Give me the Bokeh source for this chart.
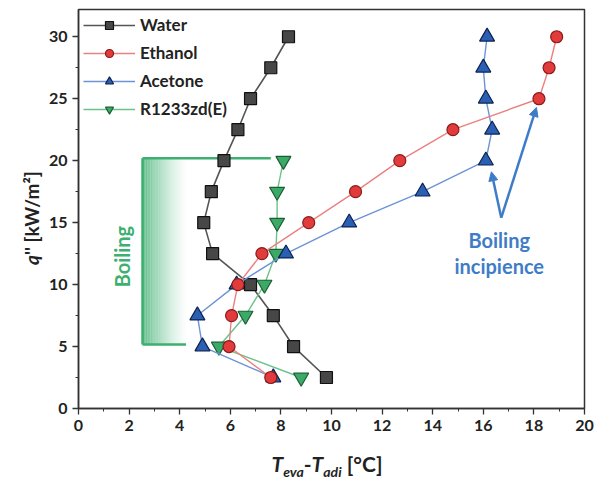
import numpy as np
from bokeh.plotting import figure
from bokeh.models import (Label, Arrow, NormalHead, Legend, LegendItem, FixedTicker,
                          SingleIntervalTicker, Range1d, Div)
from bokeh.layouts import row, column
from bokeh.embed import file_html
from bokeh.resources import INLINE

# ---- data ----
q_flux = [2.5, 5, 7.5, 10, 12.5, 15, 17.5, 20, 22.5, 25, 27.5, 30]
water_dT = [9.8, 8.5, 7.7, 6.8, 5.3, 4.95, 5.25, 5.75, 6.3, 6.8, 7.6, 8.3]
ethanol_dT = [7.6, 5.95, 6.05, 6.3, 7.25, 9.1, 10.95, 12.7, 14.8, 18.2, 18.6, 18.9]
acetone_dT = [7.7, 4.9, 4.7, 6.25, 8.2, 10.7, 13.6, 16.1, 16.35, 16.1, 16.0, 16.15]
r1233_q = [2.5, 5, 7.5, 10, 12.5, 15, 17.5, 20]
r1233_dT = [8.8, 5.55, 6.6, 7.35, 7.8, 7.85, 7.85, 8.1]
y_ticks = [0, 5, 10, 15, 20, 25, 30]
y_minor = [2.5, 7.5, 12.5, 17.5, 22.5, 27.5]

FONT = "Lato"
GREEN = "#3daf70"
BLUE = "#3f7cc8"

p = figure(width=556, height=445, output_backend="svg", toolbar_location=None,
           x_range=Range1d(0, 20), y_range=Range1d(0, 32.2),
           min_border_left=34, min_border_right=16, min_border_top=9, min_border_bottom=37)
p.xgrid.visible = False
p.ygrid.visible = False
p.outline_line_color = "#333333"
p.outline_line_width = 1.5
p.background_fill_color = "white"
p.border_fill_color = "white"

for ax in (p.xaxis[0], p.yaxis[0]):
    ax.axis_line_color = "#333333"
    ax.axis_line_width = 1.5
    ax.major_tick_line_color = "#333333"
    ax.minor_tick_line_color = "#333333"
    ax.major_tick_line_width = 1.3
    ax.minor_tick_line_width = 1.0
    ax.major_tick_out = 6
    ax.major_tick_in = 0
    ax.minor_tick_out = 3
    ax.minor_tick_in = 0
    ax.major_label_text_font = FONT
    ax.major_label_text_font_style = "bold"
    ax.major_label_text_font_size = "16px"
    ax.major_label_text_color = "#222222"
    ax.major_label_standoff = 5
p.xaxis.ticker = SingleIntervalTicker(interval=2, num_minor_ticks=2)
p.yaxis.ticker = FixedTicker(ticks=y_ticks, minor_ticks=y_minor)

# ---- boiling bracket (green) ----
bx0, bx1, by0, by1 = 2.53, 4.3, 5.16, 20.2
n = 28
edges = np.linspace(bx0, bx1, n + 1)
alphas = [0.8 * (1 - i / n) ** 1.4 for i in range(n)]
p.quad(left=edges[:-1], right=edges[1:], bottom=by0, top=by1,
       fill_color=GREEN, fill_alpha=alphas, line_color=None)
p.segment(x0=[bx0, bx0, bx0], y0=[by1, by0, by0], x1=[7.6, 4.25, bx0], y1=[by1, by0, by1],
          line_color=GREEN, line_width=2.5)

# ---- series ----
def series(x, y, line_color, marker, size, fill, edge, lw=1.4):
    l = p.line(x, y, line_color=line_color, line_width=lw)
    s = p.scatter(x, y, marker=marker, size=size, fill_color=fill, line_color=edge, line_width=1.2)
    return [l, s]

r_w = series(water_dT, q_flux, "#555555", "square", 12, "#474747", "#111111", 1.6)
r_r = series(r1233_dT, r1233_q, "#6cc28a", "inverted_triangle", 15, "#3aaa66", "#1b5e35")
r_a = series(acetone_dT, q_flux, "#6b93d6", "triangle", 15, "#2b5fb4", "#0d2350")
r_e = series(ethanol_dT, q_flux, "#ec8080", "circle", 12, "#e23b3b", "#8a1a1a")

legend = Legend(items=[LegendItem(label="Water", renderers=r_w),
                       LegendItem(label="Ethanol", renderers=r_e),
                       LegendItem(label="Acetone", renderers=r_a),
                       LegendItem(label="R1233zd(E)", renderers=r_r)],
                location="top_left", glyph_width=52, glyph_height=20, label_height=20,
                spacing=7, margin=5, padding=2, label_standoff=5,
                label_text_font=FONT, label_text_font_style="bold",
                label_text_font_size="17px", label_text_color="#222222",
                background_fill_alpha=0, border_line_color=None)
p.add_layout(legend)

# ---- annotations ----
p.add_layout(Label(x=1.7, y=12.26, text="Boiling", angle=np.pi / 2, text_align="center",
                   text_baseline="middle", text_font=FONT, text_font_style="bold",
                   text_font_size="20px", text_color=GREEN))
p.add_layout(Label(x=16.63, y=13.6, text="Boiling", text_align="center",
                   text_baseline="middle", text_font=FONT, text_font_style="bold",
                   text_font_size="20px", text_color=BLUE))
p.add_layout(Label(x=16.63, y=11.5, text="incipience", text_align="center",
                   text_baseline="middle", text_font=FONT, text_font_style="bold",
                   text_font_size="20px", text_color=BLUE))
for hx, hy in [(16.32, 19.1), (18.1, 24.3)]:
    p.add_layout(Arrow(x_start=16.71, y_start=15.4, x_end=hx, y_end=hy,
                       line_color=BLUE, line_width=2.5,
                       end=NormalHead(size=9, fill_color=BLUE, line_color=BLUE)))

# ---- axis titles as real HTML text (italics / subscripts) ----
ylab = Div(width=34, height=445, text=(
    '<div style="writing-mode: vertical-rl; transform: rotate(180deg); height: 399px; '
    'margin-top: 14px; margin-left: 15px; text-align: center; font-family: Lato; '
    'font-weight: bold; font-size: 19px; line-height: 23px; color: #222; white-space: nowrap;">'
    '<i>q</i>\'\' [kW/m²]</div>'))
xlab = Div(width=556, height=40, text=(
    '<div style="width: 540px; padding-left: 16px; padding-top: 1px; text-align: center; '
    'font-family: Lato; font-weight: bold; font-size: 21px; line-height: 25px; color: #222; '
    'white-space: nowrap;">'
    '<i>T</i><sub style="font-size: 14px;"><i>eva</i></sub>-<i>T</i>'
    '<sub style="font-size: 14px;"><i>adi</i></sub> [°C]</div>'))

layout = row(ylab, column(p, xlab))
open("out.html", "w").write(file_html(layout, INLINE))
